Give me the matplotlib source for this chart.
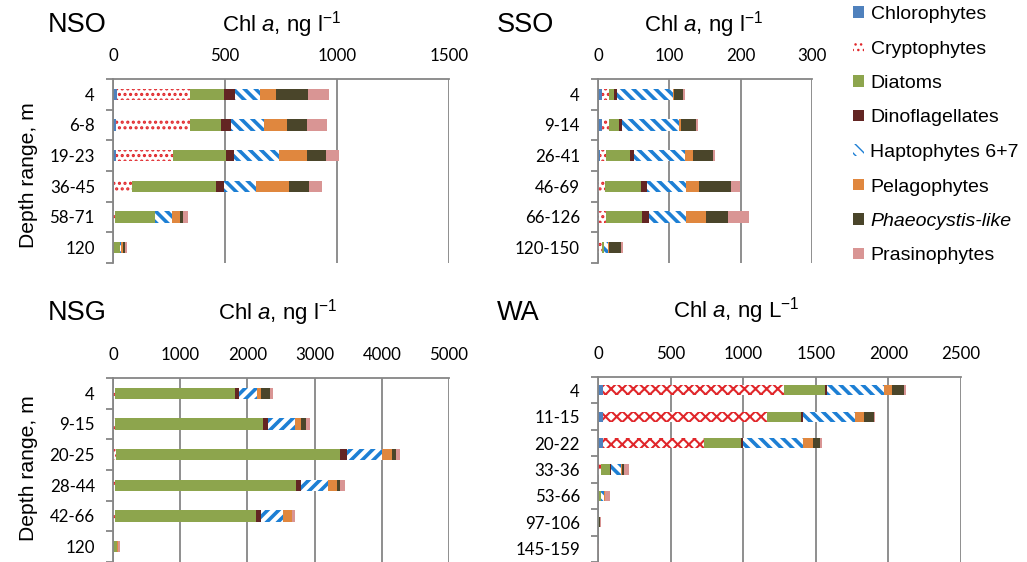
"""
Stacked horizontal bars of Chl a by phytoplankton group and depth range
for four regions (NSO, SSO, NSG, WA)
"""
import matplotlib
matplotlib.use('Agg')
import numpy as np
from matplotlib import pyplot as plt
from matplotlib.patches import Patch

plt.rcParams['font.family'] = ['Liberation Sans', 'DejaVu Sans']
plt.rcParams['mathtext.fontset'] = 'custom'
plt.rcParams['mathtext.rm'] = 'Liberation Sans'
plt.rcParams['mathtext.it'] = 'Liberation Sans:italic'

groups = ['Chlorophytes', 'Cryptophytes', 'Diatoms', 'Dinoflagellates',
          'Haptophytes 6+7', 'Pelagophytes', 'Phaeocystis-like', 'Prasinophytes']
colors = ['#4F81BD', '#E0262A', '#8DA54D', '#632523',
          '#1D7FD4', '#E0873E', '#4A452A', '#D99594']

# values per depth: chloro, crypto, diatoms, dino, hapto, pelago, phaeo, prasino
nso_depths = ['4', '6-8', '19-23', '36-45', '58-71', '120']
nso_values = [[18, 327, 150, 48, 112, 73, 141, 96],
              [15, 327, 141, 42, 148, 105, 87, 90],
              [15, 255, 235, 33, 205, 125, 85, 56],
              [4, 83, 371, 37, 143, 149, 90, 54],
              [0, 10, 176, 2, 74, 36, 13, 26],
              [0, 0, 31, 0, 5, 10, 7, 9]]

sso_depths = ['4', '9-14', '26-41', '46-69', '66-126', '120-150']
sso_values = [[5, 10, 7, 4, 79, 1.5, 12, 3],
              [5, 10, 15, 4, 80, 3, 20, 3],
              [3, 8.5, 33, 6, 72, 11, 28, 3],
              [0.5, 9.5, 50, 9, 54, 19, 45, 12],
              [0.5, 10.5, 50, 10.5, 51.5, 29, 30, 29],
              [0, 5.5, 3.5, 0, 4.5, 2.3, 16, 3.3]]

nsg_depths = ['4', '9-15', '20-25', '28-44', '42-66', '120']
nsg_values = [[0, 35, 1780, 59, 273, 50, 134, 50],
              [0, 35, 2196, 69, 402, 89, 74, 60],
              [0, 40, 3341, 94, 531, 149, 50, 69],
              [0, 35, 2687, 79, 397, 139, 45, 74],
              [0, 35, 2087, 74, 327, 134, 0, 54],
              [0, 0, 55, 0, 10, 5, 0, 30]]

wa_depths = ['4', '11-15', '20-22', '33-36', '53-66', '97-106', '145-159']
wa_values = [[34, 1246, 285, 11, 396, 55, 80, 12],
             [34, 1131, 230, 16, 359, 59, 69, 7],
             [34, 694, 258, 11, 416, 65, 50, 16],
             [0, 23, 62, 4, 67, 11, 14, 30],
             [0, 2, 18, 2, 20, 4, 5, 30],
             [0, 0, 4, 1, 0, 5, 7, 2],
             [0, 0, 1, 0, 0, 0, 0, 5]]

GREY = '#868686'
W, H = 1027, 562
DOT_LW, STRIPE_LW = 1.5, 2.6


def hatched_bars(ax, y, width, left, color, hatch, lw):
    with plt.rc_context({'hatch.linewidth': lw}):
        bars = ax.barh(y, width, left=left, height=0.38, zorder=2, facecolor='white',
                       edgecolor=color, linewidth=0, hatch=hatch)
    for b in bars:
        if hasattr(b, 'set_hatch_linewidth'):
            b.set_hatch_linewidth(lw)


def draw_panel(rect, depths, values, xmax, xstep, crypto_hatch, hapto_hatch, ylabel_y=None):
    ax = fig.add_axes([rect[0] / W, 1 - rect[3] / H, (rect[2] - rect[0]) / W, (rect[3] - rect[1]) / H])
    vals = np.array(values, dtype=float)
    y = np.arange(len(depths))
    left = np.zeros(len(depths))
    for k, name in enumerate(groups):
        if name == 'Cryptophytes':
            hatched_bars(ax, y, vals[:, k], left, colors[k], crypto_hatch, DOT_LW)
        elif name.startswith('Hapto'):
            hatched_bars(ax, y, vals[:, k], left, colors[k], hapto_hatch, STRIPE_LW)
        else:
            ax.barh(y, vals[:, k], left=left, height=0.38, zorder=2, color=colors[k], linewidth=0)
        left += vals[:, k]

    ax.set_xlim(0, xmax)
    ax.set_ylim(len(depths) - 0.5, -0.5)
    ax.set_xticks(np.arange(0, xmax + 1, xstep))
    ax.xaxis.tick_top()
    ax.tick_params(axis='x', length=0, pad=11, labelsize=12.2, labelfontfamily='Lato')
    ax.set_yticks(y)
    ax.set_yticklabels(depths)
    ax.set_yticks(np.arange(-0.5, len(depths)), minor=True)
    ax.tick_params(axis='y', which='major', length=0, pad=13, labelsize=12.2, labelfontfamily='Lato')
    ax.tick_params(axis='y', which='minor', length=5, width=1.3, color=GREY, direction='out')
    ax.grid(axis='x', color=GREY, linewidth=1.3, zorder=0)
    ax.set_axisbelow(True)
    for s in ['right', 'bottom']:
        ax.spines[s].set_visible(False)
    for s in ['left', 'top']:
        ax.spines[s].set_color(GREY)
        ax.spines[s].set_linewidth(1.3)
    if ylabel_y is not None:
        ax.set_ylabel('Depth range, m', fontsize=15.2)
        ax.yaxis.set_label_coords(-0.222, ylabel_y)
    return ax


fig = plt.figure(figsize=(W / 100, H / 100), dpi=100)

draw_panel((113, 79, 449, 263), nso_depths, nso_values, 1500, 500, '...', '\\\\\\', ylabel_y=0.475)
draw_panel((598, 79, 812, 263), sso_depths, sso_values, 300, 100, '...', '\\\\\\')
draw_panel((113, 378, 449, 562), nsg_depths, nsg_values, 5000, 1000, '...', '///', ylabel_y=0.51)
draw_panel((598, 377, 961, 562), wa_depths, wa_values, 2500, 500, 'xxx', '\\\\\\')

title_l = r'Chl $\mathit{a}$, ng l$^{-1}$'
title_L = r'Chl $\mathit{a}$, ng L$^{-1}$'
for x, yb, s in [(48, 32, 'NSO'), (497, 32, 'SSO'), (48, 320, 'NSG'), (497, 320, 'WA')]:
    fig.text(x / W, 1 - yb / H, s, fontsize=19.5, ha='left', va='baseline')
for x, yb, s in [(282, 32, title_l), (704, 32, title_l), (278, 320, title_l), (736, 318, title_L)]:
    fig.text(x / W, 1 - yb / H, s, fontsize=16, ha='center', va='baseline')

handles = []
for k, name in enumerate(groups):
    if name == 'Cryptophytes':
        handles.append(Patch(facecolor='white', edgecolor=colors[k], linewidth=0, hatch='...'))
    elif name.startswith('Hapto'):
        handles.append(Patch(facecolor='white', edgecolor=colors[k], linewidth=0, hatch='\\\\\\'))
    else:
        handles.append(Patch(facecolor=colors[k], linewidth=0))
leg = fig.legend(handles, groups, loc='upper left', bbox_to_anchor=(853 / W, 1 - 6 / H),
                 frameon=False, fontsize=14, handlelength=0.55, handleheight=0.55,
                 handletextpad=0.35, labelspacing=0.9, borderpad=0, borderaxespad=0)
leg.get_texts()[6].set_fontstyle('italic')

fig.savefig('out.png', dpi=100)
